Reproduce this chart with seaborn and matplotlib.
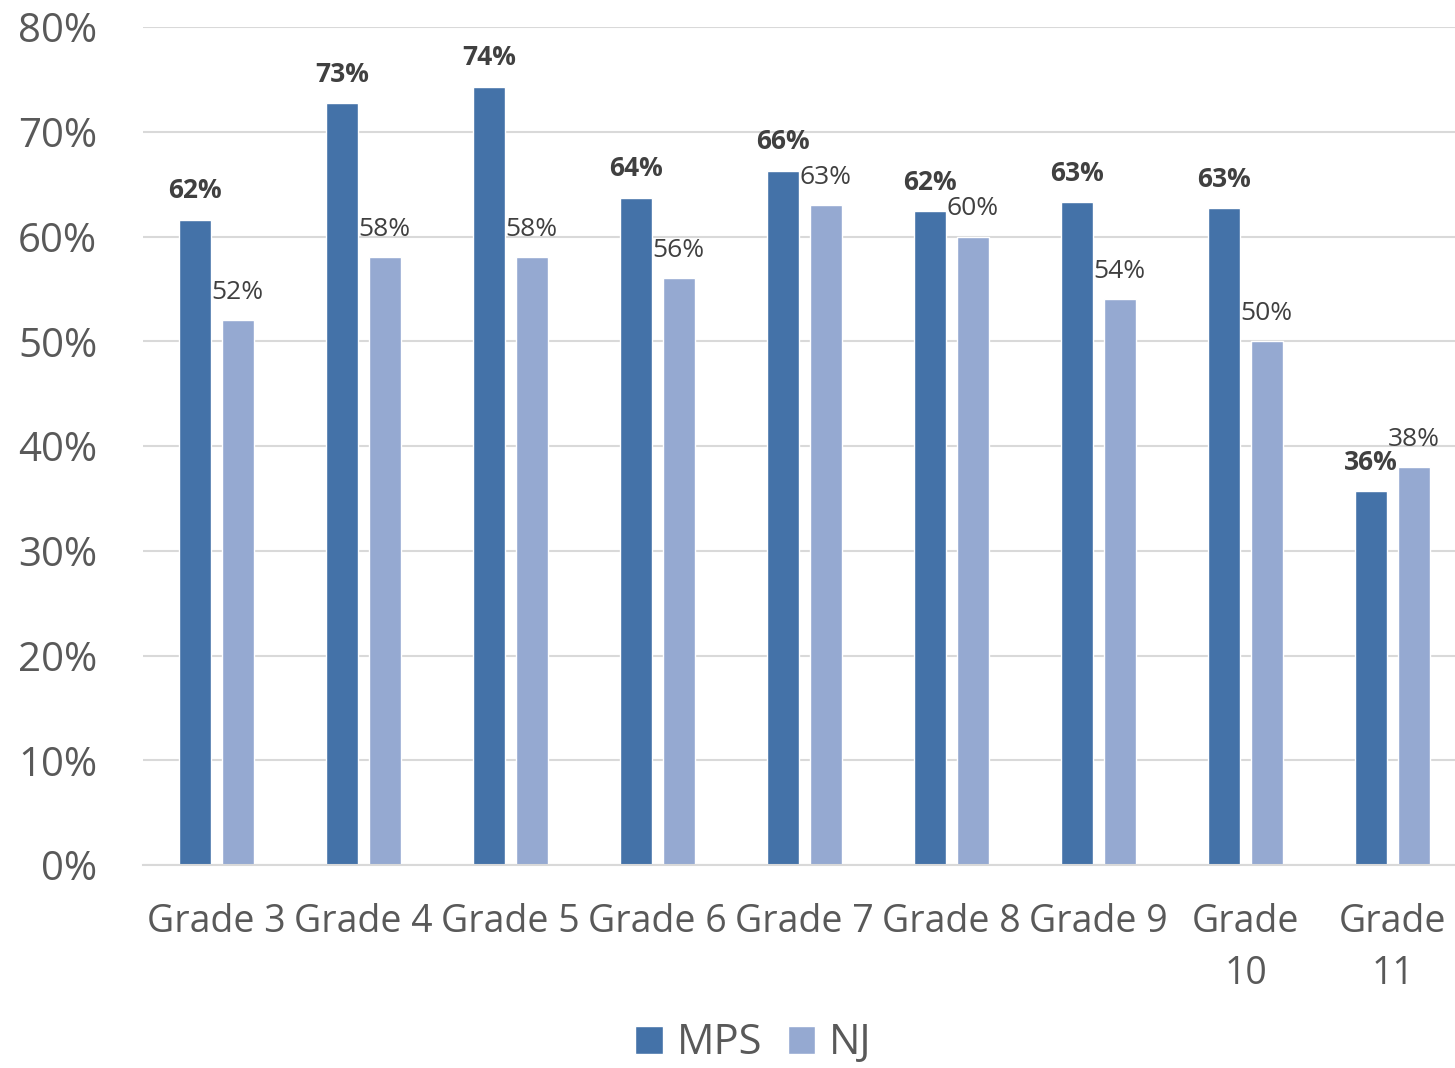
import pandas as pd
import matplotlib.pyplot as plt
import seaborn as sns
from matplotlib.ticker import PercentFormatter
from matplotlib.patches import Patch

# ------------------------------------------------------------
# Datos
# ------------------------------------------------------------

grades = ["Grade 3", "Grade 4", "Grade 5", "Grade 6", "Grade 7",
          "Grade 8", "Grade 9", "Grade\n10", "Grade\n11"]
mps = [61.6, 72.7, 74.3, 63.7, 66.3, 62.4, 63.3, 62.7, 35.7]
nj = [52, 58, 58, 56, 63, 60, 54, 50, 38]
series = ["MPS", "NJ"]
colors = ["#4472A8", "#95A9D1"]

df = pd.DataFrame({
    "grade": grades * 2,
    "value": mps + nj,
    "group": ["MPS"] * len(grades) + ["NJ"] * len(grades),
})

# ------------------------------------------------------------
# Grafico
# ------------------------------------------------------------

sns.set_style("white")
plt.rcParams["font.family"] = ["Open Sans", "DejaVu Sans"]

fig = plt.figure(figsize=(14.55, 10.68), dpi=100)
# el eje se sale un poco por la derecha, como en el original
ax = fig.add_axes([0.0983, 0.19, 0.9093, 0.7847])

sns.barplot(
    data=df, x="grade", y="value", hue="group",
    palette=colors, width=0.58, gap=0.24,
    saturation=1, ax=ax, legend=False
)

ax.set_ylim(0, 80)
ax.set_xlim(-0.5, len(grades) - 0.5)
ax.yaxis.set_major_formatter(PercentFormatter(decimals=0))
ax.set_yticks(range(0, 81, 10))
ax.grid(axis="y", color="#D9D9D9", linewidth=1.5)
ax.set_axisbelow(True)
for s in ["top", "right", "left"]:
    ax.spines[s].set_visible(False)
ax.spines["bottom"].set_color("#D9D9D9")
ax.spines["bottom"].set_linewidth(1.5)
ax.tick_params(axis="x", length=0, labelsize=27, labelcolor="#595959", pad=27)
ax.tick_params(axis="y", length=0, labelsize=29, labelcolor="#595959", pad=33)
for lbl in ax.get_xticklabels():
    lbl.set_linespacing(1.5)
ax.set_xlabel("")
ax.set_ylabel("")

# etiquetas de datos
for i, cont in enumerate(ax.containers):
    ax.bar_label(
        cont, labels=[f"{v:.0f}%" for v in cont.datavalues],
        padding=11, fontsize=19, color="#404040",
        fontweight="bold" if i == 0 else "normal"
    )

handles = [Patch(facecolor=c, label=s) for s, c in zip(series, colors)]
fig.legend(
    handles=handles, loc="center", bbox_to_anchor=(0.518, 0.023),
    ncol=2, frameon=False, fontsize=30, handlelength=0.65, handleheight=0.65,
    handletextpad=0.35, columnspacing=0.6, labelcolor="#595959"
)

fig.savefig("out.png", dpi=100)
plt.close()
